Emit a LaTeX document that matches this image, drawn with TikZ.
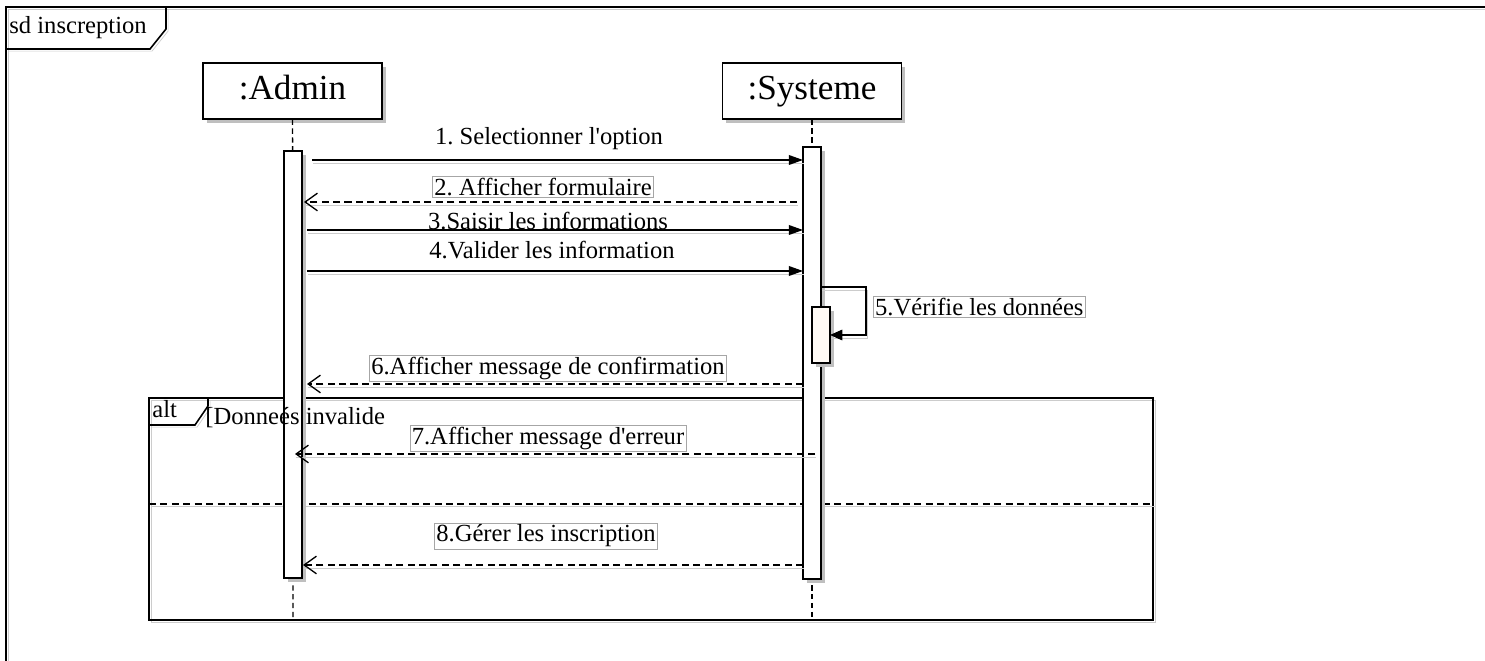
\documentclass[tikz,border=0pt]{standalone}
\usepackage{fontspec}
\setmainfont{Liberation Serif}
\usetikzlibrary{arrows.meta,shadows}
\frenchspacing
\tikzset{
  obj/.style={draw,fill=white,line width=0.8pt,minimum width=3.58cm,minimum height=1.12cm,text height=14pt,text depth=4pt,font=\fontsize{20}{24}\selectfont,drop shadow={shadow xshift=2pt,shadow yshift=-2pt,fill=black!25,opacity=1}},
  act/.style={draw,fill=white,line width=0.8pt,minimum width=0.36cm,inner sep=0pt,drop shadow={shadow xshift=2pt,shadow yshift=-2pt,fill=black!25,opacity=1}},
  life/.style={line width=0.8pt,dash pattern=on 3pt off 2pt},
  msg/.style={line width=0.75pt,preaction={draw=black!20,-,transform canvas={shift={(0.6pt,-2pt)}}}},
  sync/.style={msg,-{Triangle[length=8pt,width=5.5pt]}},
  reply/.style={msg,dash pattern=on 4pt off 2.5pt,-{Straight Barb[length=7pt,width=10pt]}},
  lbl/.style={inner sep=1pt},
  lblbox/.style={lbl,draw=black!35,line width=0.4pt},
  frm/.style={line width=0.9pt,preaction={draw=black!20,transform canvas={shift={(1.2pt,-1.2pt)}}}},
}
\begin{document}
\begin{tikzpicture}[x=0.2mm,y=-0.2mm,font=\fontsize{14}{16}\selectfont]
\useasboundingbox(0,0)rectangle(1485,661);
\draw[frm](6,680)--(6,7)--(1500,7);
\draw[frm](6,49)--(150,49)--(166,29)--(166,7);
\node[anchor=west,inner sep=0pt](sd)at(9,28){sd inscreption};
\draw[frm](149,398)rectangle(1153,620);
\draw[frm](149,425)--(195,425)--(208,406)--(208,398);
\draw[frm,dash pattern=on 4pt off 2.5pt](149,504)--(1153,504);
\node[anchor=west,inner sep=0pt](alt)at(152,409){alt};
\node[obj](admin)at(292.5,91){:Admin};
\node[obj](sys)at(812,91){:Systeme};
\coordinate(aend)at(293,620);
\coordinate(send)at(812,620);
\draw[life](admin)--(aend);
\draw[life](sys)--(send);
\node[act,minimum height=8.54cm](actA)at(293,364.5){};
\node[act,minimum height=8.64cm](actS)at(812,363){};
\node[act,minimum height=1.12cm,fill=black!3!orange!4](actV)at(821,335){};
\node[anchor=west,inner sep=0pt](guard)at(205,418){[Donneés invalide};
\coordinate(a1)at(312,160);\coordinate(s1)at(803,160);
\coordinate(s2)at(797,202);\coordinate(a2)at(304,202);
\coordinate(a3)at(307,230);\coordinate(s3)at(803,230);
\coordinate(a4)at(307,271);\coordinate(s4)at(803,271);
\coordinate(s5)at(821,287);\coordinate(v5)at(830,335);
\coordinate(s6)at(803,384);\coordinate(a6)at(307,384);
\coordinate(s7)at(815,454);\coordinate(a7)at(295,454);
\coordinate(s8)at(803,565);\coordinate(a8)at(303,565);
\draw[sync](a1)--(s1);
\draw[reply](s2)--(a2);
\draw[sync](a3)--(s3);
\draw[sync](a4)--(s4);
\draw[msg,-{Triangle[length=7pt,width=6pt]}](s5)--++(45,0)|-(v5);
\draw[reply](s6)--(a6);
\draw[reply](s7)--(a7);
\draw[reply](s8)--(a8);
\node[lbl](l1)at(549,139){1. Selectionner l\textquotesingle option};
\node[lblbox](l2)at(543,187){2. Afficher formulaire};
\node[lbl](l3)at(548,221){3.Saisir les informations};
\node[lbl](l4)at(552,250){4.Valider les information};
\node[lblbox,anchor=west](l5)at(873,307){5.Vérifie les données};
\node[lblbox](l6)at(548,368){6.Afficher message de confirmation};
\node[lblbox](l7)at(548,438){7.Afficher message d\textquotesingle erreur};
\node[lblbox](l8)at(546,536){8.Gérer les inscription};
\end{tikzpicture}
\end{document}
